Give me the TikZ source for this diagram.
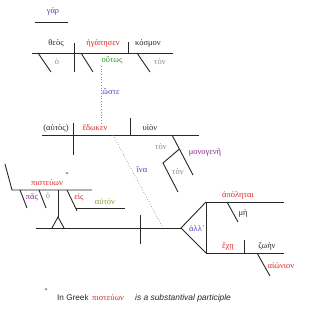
\documentclass[tikz,border=0pt]{standalone}
\usepackage{fontspec}
\setmainfont{Liberation Serif}
\newfontfamily\ftsans{Liberation Sans}
\definecolor{gblue}{RGB}{70,70,200}
\definecolor{gred}{RGB}{220,40,40}
\definecolor{ggray}{RGB}{140,140,140}
\definecolor{ggreen}{RGB}{40,150,40}
\definecolor{gpurple}{RGB}{130,40,140}
\definecolor{golive}{RGB}{150,150,50}
\definecolor{gink}{RGB}{40,40,40}
\begin{document}
\begin{tikzpicture}[x=1pt,y=-1pt,
  ln/.style={draw=gink,line width=0.9pt},
  dl/.style={draw=ggray,line width=0.7pt,dotted},
  wd/.style={inner sep=0pt,font=\fontsize{8.5}{10}\selectfont},
  blk/.style={wd,text=gink},
  red/.style={wd,text=gred},
  blu/.style={wd,text=gblue},
  gry/.style={wd,text=ggray},
  grn/.style={wd,text=ggreen},
  pur/.style={wd,text=gpurple},
  olv/.style={wd,text=golive}]
\useasboundingbox[fill=white] (0,0) rectangle (320,320);
% clause 1
\node[blu] (gar) at (53,11) {γάρ};
\draw[ln] (35,22) -- (68,22);
\draw[ln] (32,53) -- (173,53);
\draw[ln] (74,43) -- (74,72);
\draw[ln] (128,42) -- (128,53);
\draw[ln] (38,53) -- (51,72);
\draw[ln] (81,53) -- (93,72);
\draw[ln] (137,53) -- (150,72);
\node[blk] (theos) at (56,43) {θεὸς};
\node[red] (egap) at (103,43) {ἠγάπησεν};
\node[blk] (kosm) at (148,43) {κόσμον};
\node[gry] (ho1) at (57,62) {ὁ};
\node[grn] (hout) at (112,60) {οὕτως};
\node[gry] (ton1) at (160,62) {τὸν};
\coordinate (d1a) at (101,66);
\coordinate (d1b) at (101,125);
\draw[dl] (d1a) -- (d1b);
\node[blu] (host) at (111,92) {ὥστε};
% clause 2
\draw[ln] (42,135) -- (199,135);
\draw[ln] (73,123) -- (73,155);
\draw[ln] (130,118) -- (130,135);
\draw[ln] (172,135) -- (193,175);
\draw[ln] (179.4,149) -- (163,163) -- (178,192);
\node[blk] (autos) at (56,128) {(αὐτὸς)};
\node[red] (edok) at (95,128) {ἔδωκεν};
\node[blk] (huion) at (150,128) {υἱὸν};
\node[gry] (ton2) at (161,147) {τὸν};
\node[pur] (mono) at (205,153) {μονογενῆ};
\node[gry] (ton3) at (178,172) {τὸν};
\coordinate (d2a) at (113,135);
\coordinate (d2b) at (163,228);
\draw[dl] (d2a) -- (d2b);
\node[blu] (hina) at (142,170) {ἵνα};
% clause 3
\draw[ln] (5,164) -- (12,190) -- (92,190);
\draw[ln] (20,190) -- (27,208);
\draw[ln] (39,190) -- (46,208);
\draw[ln] (58,190) -- (58,217);
\draw[ln] (52,228) -- (58,217) -- (64,228);
\draw[ln] (67,190) -- (77,211);
\draw[ln] (76,208) -- (125,208);
\draw[ln] (36,228) -- (181,228);
\draw[ln] (140,215) -- (140,244);
\draw[ln] (206,202) -- (181,228) -- (206,253);
\draw[ln] (206,202) -- (206,253);
\draw[ln] (206,202) -- (284,202);
\draw[ln] (227,202) -- (238,222);
\draw[ln] (206,253) -- (284,253);
\draw[ln] (244,240) -- (244,253);
\draw[ln] (257,253) -- (270,276);
\node[red] (pist) at (47,183) {πιστεύων};
\node[blk,font=\fontsize{6}{7}\selectfont] (ast1) at (67,175) {*};
\node[pur] (pas) at (32,197) {πᾶς};
\node[gry] (ho2) at (48,196) {ὁ};
\node[red] (eis) at (79,197) {εἰς};
\node[olv] (auton) at (105,202) {αὐτόν};
\node[red] (apol) at (238,195) {ἀπόληται};
\node[blk] (me) at (243,213) {μὴ};
\node[blu] (all) at (197,229) {ἀλλ᾿};
\node[red] (eche) at (228,246) {ἔχῃ};
\node[blk] (zoen) at (267,246) {ζωὴν};
\node[red] (aion) at (281,266) {αἰώνιον};
% footnote
\node[blk,font=\fontsize{6}{7}\selectfont] (ast2) at (46,291) {*};
\node[blk,anchor=west,font=\ftsans\fontsize{8.2}{10}\selectfont] (fn1) at (57,298) {In Greek};
\node[red,anchor=west] (fn2) at (92,298) {πιστεύων};
\node[blk,anchor=west,font=\ftsans\itshape\fontsize{8.4}{10}\selectfont] (fn3) at (135,298) {is a substantival participle};
\end{tikzpicture}
\end{document}
